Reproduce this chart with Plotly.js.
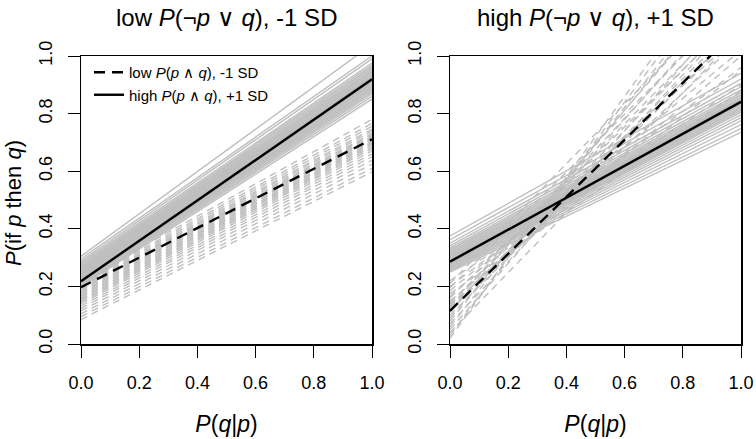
<!DOCTYPE html>
<html>
<head>
<meta charset="utf-8">
<script src="https://cdn.plot.ly/plotly-3.0.1.min.js"></script>
<style>html,body{margin:0;padding:0;background:#fff;}#chart{width:756px;height:439px;}</style>
</head>
<body>
<div id="chart"></div>
<script>
// x range of every line: P(q|p)
const xEnds = [0, 1];

// Left panel: low P(¬p ∨ q), -1 SD
// gray solid lines (high P(p∧q)): value at x=0 and at x=1
const leftHighStart = [0.305,0.296,0.288,0.282,0.277,0.272,0.268,0.265,0.261,0.258,0.255,0.252,0.249,0.246,0.243,0.240,0.237,0.234,0.231,0.228,0.225,0.222,0.219,0.216,0.212,0.208,0.204,0.200];
const leftHighEnd   = [1.04,1.00,0.99,0.975,0.968,0.962,0.956,0.950,0.946,0.941,0.936,0.931,0.928,0.924,0.920,0.916,0.912,0.908,0.904,0.900,0.895,0.890,0.885,0.880,0.874,0.868,0.860,0.850];
// gray dashed lines (low P(p∧q))
const leftLowStart = [0.220,0.214,0.209,0.204,0.200,0.196,0.191,0.186,0.181,0.176,0.171,0.166,0.161,0.156,0.151,0.146,0.140,0.132,0.124,0.115,0.105,0.095,0.085];
const leftLowEnd   = [0.780,0.766,0.756,0.746,0.739,0.731,0.726,0.721,0.716,0.711,0.705,0.700,0.695,0.690,0.684,0.678,0.670,0.660,0.650,0.638,0.625,0.610,0.598];
// black model lines
const leftMeanHigh = [0.218, 0.919];
const leftMeanLow  = [0.197, 0.711];

// Right panel: high P(¬p ∨ q), +1 SD
const rightHighStart = [0.375,0.362,0.350,0.341,0.333,0.327,0.322,0.317,0.312,0.307,0.303,0.299,0.296,0.293,0.290,0.287,0.284,0.281,0.278,0.275,0.271,0.267,0.263,0.259,0.255,0.250];
const rightHighEnd   = [0.940,0.920,0.905,0.893,0.882,0.873,0.866,0.860,0.855,0.851,0.847,0.844,0.840,0.836,0.832,0.827,0.822,0.817,0.811,0.805,0.796,0.786,0.775,0.762,0.748,0.735];
const rightLowStart = [0.220,0.210,0.200,0.195,0.185,0.175,0.165,0.160,0.150,0.145,0.140,0.135,0.130,0.125,0.120,0.115,0.110,0.100,0.090,0.080,0.070,0.060,0.050,0.040,0.030,0.020];
const rightLowEnd   = [0.900,1.250,0.960,1.200,1.020,0.880,1.080,1.150,0.950,1.100,1.180,1.000,1.220,1.120,1.060,1.160,1.280,1.100,1.240,1.300,1.150,1.330,1.200,1.080,1.380,1.420];
const rightMeanHigh = [0.286, 0.841];
const rightMeanLow  = [0.115, 1.105];

const xTicks = [0, 0.2, 0.4, 0.6, 0.8, 1.0];
const xTickText = ["0.0","0.2","0.4","0.6","0.8","1.0"];
const yTicks = [0, 0.2, 0.4, 0.6, 0.8, 1.0];
const yTickText = ["0.0","0.2","0.4","0.6","0.8","1.0"];

const GRAY = '#bebebe';
const traces = [];
function grayLines(starts, ends, dash, xa, ya) {
  for (let i = 0; i < starts.length; i++) {
    traces.push({type:'scatter', mode:'lines', x:xEnds, y:[starts[i], ends[i]],
      xaxis:xa, yaxis:ya, showlegend:false, hoverinfo:'skip',
      line:{color:GRAY, width:1.4, dash:dash}});
  }
}
grayLines(leftHighStart, leftHighEnd, 'solid', 'x', 'y');
grayLines(leftLowStart, leftLowEnd, '7px,5px', 'x', 'y');
grayLines(rightHighStart, rightHighEnd, 'solid', 'x2', 'y2');
grayLines(rightLowStart, rightLowEnd, '7px,5px', 'x2', 'y2');

traces.push({type:'scatter', mode:'lines', x:xEnds, y:leftMeanLow, xaxis:'x', yaxis:'y',
  name:'low <i>P</i>(<i>p</i> ∧ <i>q</i>), -1 SD', line:{color:'black', width:2.4, dash:'11px,7px'}});
traces.push({type:'scatter', mode:'lines', x:xEnds, y:leftMeanHigh, xaxis:'x', yaxis:'y',
  name:'high <i>P</i>(<i>p</i> ∧ <i>q</i>), +1 SD', line:{color:'black', width:2.4}});
traces.push({type:'scatter', mode:'lines', x:xEnds, y:rightMeanLow, xaxis:'x2', yaxis:'y2',
  showlegend:false, line:{color:'black', width:2.4, dash:'11px,7px'}});
traces.push({type:'scatter', mode:'lines', x:xEnds, y:rightMeanHigh, xaxis:'x2', yaxis:'y2',
  showlegend:false, line:{color:'black', width:2.4}});

const FONT = 'Liberation Sans, Arial, Helvetica, sans-serif';
const tickFont = {family:FONT, size:18, color:'black'};
function xAxis(domain, anchor) {
  return {domain:domain, anchor:anchor, range:[0,1], showgrid:false, zeroline:false,
    tickvals:xTicks, ticktext:xTickText, ticks:'outside', ticklen:12, tickwidth:1, tickcolor:'black',
    showline:true, linecolor:'black', linewidth:1.5, mirror:true, tickfont:tickFont,
    ticklabelstandoff:10,
    title:{text:'<i>P</i>(<i>q</i>|<i>p</i>)', font:{family:FONT, size:23, color:'black'}, standoff:24}};
}
function yAxis(domain, anchor) {
  return {domain:domain, anchor:anchor, range:[0,1], showgrid:false, zeroline:false,
    tickvals:yTicks, ticktext:yTickText, ticks:'outside', ticklen:12, tickwidth:1, tickcolor:'black',
    showline:true, linecolor:'black', linewidth:1.5, mirror:true, tickfont:tickFont, tickangle:-90,
    ticklabelstandoff:8};
}
const yDom = [(439-344)/439, (439-56)/439];
const layout = {
  width:756, height:439, margin:{l:0,r:0,t:0,b:0},
  paper_bgcolor:'white', plot_bgcolor:'white',
  font:{family:FONT, color:'black'},
  xaxis: xAxis([81/756, 372/756], 'y'),
  yaxis: yAxis(yDom, 'x'),
  xaxis2: xAxis([450/756, 741/756], 'y2'),
  yaxis2: yAxis(yDom, 'x2'),
  showlegend:true,
  legend:{x:89/756, y:(439-56)/439, xanchor:'left', yanchor:'top', bgcolor:'rgba(0,0,0,0)',
    font:{family:FONT, size:15, color:'black'}, itemwidth:30, tracegroupgap:0},
  annotations:[
    {text:'low <i>P</i>(¬<i>p</i> ∨ <i>q</i>), -1 SD', xref:'paper', yref:'paper',
     x:(81+372)/2/756, y:(439-18)/439, xanchor:'center', yanchor:'middle', showarrow:false,
     font:{family:FONT, size:24, color:'black'}},
    {text:'high <i>P</i>(¬<i>p</i> ∨ <i>q</i>), +1 SD', xref:'paper', yref:'paper',
     x:(450+741)/2/756, y:(439-18)/439, xanchor:'center', yanchor:'middle', showarrow:false,
     font:{family:FONT, size:24, color:'black'}},
    {text:'<i>P</i>(if <i>p</i> then <i>q</i>)', xref:'paper', yref:'paper', textangle:-90,
     x:13/756, y:(439-203)/439, xanchor:'center', yanchor:'middle', showarrow:false,
     font:{family:FONT, size:22, color:'black'}}
  ]
};
Plotly.newPlot('chart', traces, layout, {staticPlot:true, displayModeBar:false});
</script>
</body>
</html>
